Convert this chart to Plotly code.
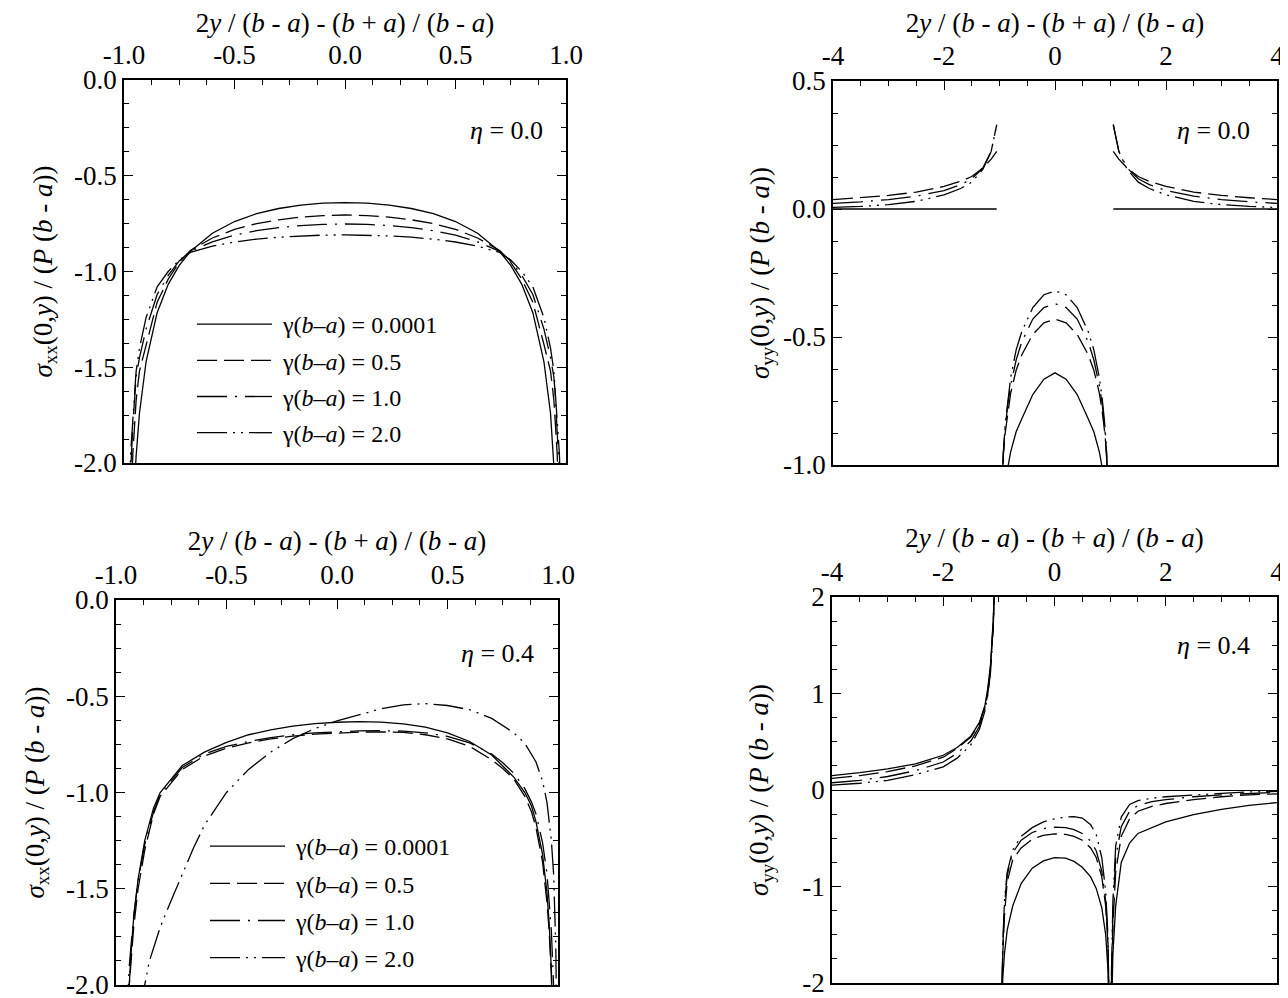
import plotly.graph_objects as go

FONT = "Liberation Serif, Tinos, Times New Roman, DejaVu Serif, serif"

SERIES_NAMES = ["\u00a0γ(<i>b</i>–<i>a</i>) = 0.0001", "\u00a0γ(<i>b</i>–<i>a</i>) = 0.5",
                "\u00a0γ(<i>b</i>–<i>a</i>) = 1.0", "\u00a0γ(<i>b</i>–<i>a</i>) = 2.0"]
DASHES = ["solid", "20px,7px", "30px,8px,2px,8px", "30px,6px,2px,6px,2px,6px"]

# ---------- Top-left: sigma_xx, eta = 0.0 ----------
TL_X = [-0.99, -0.98, -0.97, -0.96, -0.95, -0.945, -0.93, -0.9, -0.85, -0.8, -0.75, -0.7,
        -0.6, -0.5, -0.4, -0.3, -0.2, -0.1, 0.0, 0.1, 0.2, 0.3, 0.4, 0.5, 0.6, 0.7, 0.75,
        0.8, 0.85, 0.9, 0.93, 0.945, 0.95, 0.96, 0.97, 0.98, 0.99]
TL_G0001 = [-4.5, -3.2, -2.63, -2.29, -2.05, -1.96, -1.74, -1.47, -1.215, -1.067, -0.968, -0.896,
            -0.80, -0.739, -0.698, -0.671, -0.653, -0.643, -0.64, -0.643, -0.653, -0.671, -0.698,
            -0.739, -0.80, -0.896, -0.968, -1.067, -1.215, -1.47, -1.74, -1.96, -2.05, -2.29,
            -2.63, -3.2, -4.5]
TL_G05 = [-4.0, -3.0, -2.3, -1.95, -1.75, -1.67, -1.52, -1.38, -1.16, -1.04, -0.952, -0.89,
          -0.825, -0.78, -0.75, -0.73, -0.716, -0.708, -0.705, -0.708, -0.716, -0.73, -0.75,
          -0.78, -0.825, -0.89, -0.952, -1.04, -1.16, -1.38, -1.52, -1.67, -1.75, -1.95,
          -2.3, -3.0, -4.0]
TL_G10 = [-3.5, -2.6, -2.05, -1.80, -1.62, -1.55, -1.45, -1.30, -1.12, -1.02, -0.945, -0.895,
          -0.845, -0.81, -0.787, -0.771, -0.76, -0.754, -0.752, -0.754, -0.76, -0.771, -0.787,
          -0.81, -0.845, -0.895, -0.945, -1.02, -1.12, -1.30, -1.45, -1.55, -1.62, -1.80,
          -2.05, -2.6, -3.5]
TL_G20 = [-3.0, -2.3, -1.95, -1.75, -1.6, -1.52, -1.40, -1.24, -1.08, -1.0, -0.94, -0.9,
          -0.868, -0.846, -0.831, -0.821, -0.814, -0.810, -0.809, -0.810, -0.814, -0.821, -0.831,
          -0.846, -0.868, -0.9, -0.94, -1.0, -1.08, -1.24, -1.40, -1.52, -1.6, -1.75,
          -1.95, -2.3, -3.0]

# ---------- Top-right: sigma_yy, eta = 0.0 ----------
TR_XL = [-4, -3.5, -3, -2.5, -2, -1.7, -1.5, -1.3, -1.15, -1.05]
TR_XC = [-0.97, -0.95, -0.93, -0.9, -0.85, -0.8, -0.7, -0.6, -0.4, -0.2, 0.0,
         0.2, 0.4, 0.6, 0.7, 0.8, 0.85, 0.9, 0.93, 0.95, 0.97]
TR_XR = [1.05, 1.15, 1.3, 1.5, 1.7, 2, 2.5, 3, 3.5, 4]
TR_L = [
    [0, 0, 0, 0, 0, 0, 0, 0, 0, 0],
    [0.037, 0.044, 0.053, 0.066, 0.088, 0.108, 0.127, 0.16, 0.195, 0.225],
    [0.022, 0.028, 0.037, 0.05, 0.072, 0.095, 0.118, 0.16, 0.225, 0.33],
    [0.006, 0.01, 0.017, 0.03, 0.055, 0.08, 0.105, 0.155, 0.225, 0.33],
]
TR_C = [
    [-1.5, -1.3, -1.2, -1.1, -1.01, -0.95, -0.87, -0.82, -0.725, -0.665, -0.64,
     -0.665, -0.725, -0.82, -0.87, -0.95, -1.01, -1.1, -1.2, -1.3, -1.5],
    [-1.2, -1.05, -0.96, -0.88, -0.79, -0.72, -0.63, -0.57, -0.49, -0.445, -0.43,
     -0.445, -0.49, -0.57, -0.63, -0.72, -0.79, -0.88, -0.96, -1.05, -1.2],
    [-1.2, -1.05, -0.95, -0.86, -0.76, -0.69, -0.59, -0.52, -0.43, -0.385, -0.37,
     -0.385, -0.43, -0.52, -0.59, -0.69, -0.76, -0.86, -0.95, -1.05, -1.2],
    [-1.2, -1.05, -0.95, -0.85, -0.74, -0.66, -0.55, -0.48, -0.385, -0.335, -0.32,
     -0.335, -0.385, -0.48, -0.55, -0.66, -0.74, -0.85, -0.95, -1.05, -1.2],
]
TR_R = [
    [0, 0, 0, 0, 0, 0, 0, 0, 0, 0],
    [0.225, 0.195, 0.16, 0.127, 0.108, 0.088, 0.066, 0.053, 0.044, 0.037],
    [0.33, 0.225, 0.16, 0.118, 0.095, 0.072, 0.05, 0.037, 0.028, 0.022],
    [0.33, 0.225, 0.155, 0.105, 0.08, 0.055, 0.03, 0.017, 0.01, 0.006],
]

# ---------- Bottom-left: sigma_xx, eta = 0.4 ----------
BL_X = [-0.96, -0.95, -0.94, -0.93, -0.92, -0.9, -0.87, -0.83, -0.8, -0.7, -0.6, -0.5, -0.4,
        -0.3, -0.2, -0.1, 0.0, 0.1, 0.2, 0.3, 0.4, 0.5, 0.6, 0.7, 0.75, 0.8, 0.85, 0.88, 0.9,
        0.93, 0.95, 0.96, 0.97, 0.98, 0.99]
BL_G0001 = [-2.6, -2.25, -2.0, -1.8, -1.65, -1.45, -1.25, -1.08, -1.0, -0.86, -0.79, -0.74, -0.70,
            -0.675, -0.655, -0.642, -0.635, -0.632, -0.634, -0.643, -0.66, -0.69, -0.735, -0.805,
            -0.86, -0.92, -1.0, -1.07, -1.15, -1.32, -1.52, -1.68, -1.92, -2.3, -3.0]
BL_G05 = [-2.5, -2.2, -2.0, -1.85, -1.7, -1.5, -1.3, -1.11, -1.02, -0.88, -0.81, -0.77, -0.742,
          -0.722, -0.707, -0.697, -0.69, -0.686, -0.685, -0.688, -0.70, -0.722, -0.76, -0.83,
          -0.875, -0.93, -1.02, -1.1, -1.18, -1.36, -1.57, -1.72, -1.95, -2.3, -3.0]
BL_G10 = [-2.4, -2.1, -1.9, -1.77, -1.64, -1.46, -1.27, -1.1, -1.01, -0.87, -0.80, -0.76, -0.735,
          -0.715, -0.70, -0.69, -0.684, -0.68, -0.679, -0.681, -0.69, -0.708, -0.742, -0.80,
          -0.845, -0.90, -0.98, -1.05, -1.11, -1.26, -1.42, -1.55, -1.72, -2.0, -2.6]
BL_X20 = [-0.9, -0.87, -0.85, -0.8, -0.75, -0.7, -0.65, -0.6, -0.5, -0.4, -0.3, -0.2, -0.1, 0.0,
          0.1, 0.2, 0.3, 0.4, 0.5, 0.6, 0.7, 0.8, 0.85, 0.9, 0.93, 0.95, 0.97, 0.98, 0.99, 0.995]
BL_G20 = [-2.4, -2.0, -1.88, -1.7, -1.56, -1.42, -1.29, -1.17, -1.0, -0.88, -0.79, -0.72, -0.668,
          -0.628, -0.595, -0.565, -0.545, -0.538, -0.548, -0.57, -0.615, -0.69, -0.745, -0.84,
          -0.94, -1.05, -1.25, -1.42, -1.8, -2.3]

# ---------- Bottom-right: sigma_yy, eta = 0.4 ----------
BR_XL = [-4, -3.5, -3, -2.5, -2, -1.75, -1.5, -1.35, -1.25, -1.2, -1.15, -1.12, -1.1, -1.08]
BR_XC = [-0.96, -0.95, -0.93, -0.9, -0.85, -0.75, -0.6, -0.4, -0.2, 0.0, 0.2, 0.35, 0.5,
         0.65, 0.75, 0.85, 0.92, 0.96, 0.98]
BR_XR = [1.01, 1.02, 1.05, 1.1, 1.2, 1.35, 1.5, 1.75, 2, 2.5, 3, 3.5, 4]
BR_L = [
    [0.15, 0.18, 0.22, 0.27, 0.36, 0.44, 0.56, 0.70, 0.88, 1.05, 1.3, 1.55, 1.78, 2.1],
    [0.12, 0.15, 0.19, 0.25, 0.34, 0.43, 0.55, 0.69, 0.86, 1.02, 1.28, 1.52, 1.75, 2.1],
    [0.075, 0.10, 0.14, 0.20, 0.29, 0.38, 0.51, 0.66, 0.84, 1.0, 1.25, 1.5, 1.72, 2.1],
    [0.05, 0.07, 0.10, 0.16, 0.24, 0.33, 0.47, 0.63, 0.82, 0.98, 1.22, 1.48, 1.70, 2.1],
]
BR_C = [
    [-2.6, -2.25, -1.95, -1.7, -1.45, -1.2, -0.97, -0.81, -0.735, -0.70, -0.705, -0.74, -0.80,
     -0.90, -1.02, -1.22, -1.5, -1.85, -2.3],
    [-2.6, -2.1, -1.7, -1.3, -0.95, -0.72, -0.6, -0.51, -0.47, -0.455, -0.46, -0.48, -0.52,
     -0.6, -0.7, -0.9, -1.2, -1.6, -2.2],
    [-2.6, -2.1, -1.65, -1.2, -0.88, -0.65, -0.52, -0.44, -0.40, -0.385, -0.39, -0.41, -0.45,
     -0.53, -0.63, -0.84, -1.15, -1.55, -2.2],
    [-2.6, -2.1, -1.6, -1.15, -0.85, -0.62, -0.48, -0.39, -0.33, -0.30, -0.28, -0.275, -0.29,
     -0.36, -0.46, -0.7, -1.05, -1.5, -2.2],
]
BR_R = [
    [-3.0, -2.4, -1.7, -1.2, -0.75, -0.55, -0.45, -0.39, -0.33, -0.255, -0.2, -0.16, -0.13],
    [-3.0, -2.2, -1.4, -0.85, -0.48, -0.3, -0.22, -0.17, -0.14, -0.1, -0.07, -0.05, -0.04],
    [-3.0, -2.1, -1.25, -0.7, -0.38, -0.22, -0.16, -0.12, -0.1, -0.07, -0.05, -0.035, -0.025],
    [-3.0, -2.0, -1.15, -0.58, -0.28, -0.15, -0.11, -0.085, -0.07, -0.05, -0.035, -0.02, -0.015],
]

# ---------- ticks ----------
X1_VALS = [-1.0, -0.5, 0.0, 0.5, 1.0]
X1_TEXT = ["-1.0", "-0.5", "0.0", "0.5", "1.0"]
X4_VALS = [-4, -2, 0, 2, 4]
X4_TEXT = ["-4", "-2", "0", "2", "4"]
YXX_VALS = [0.0, -0.5, -1.0, -1.5, -2.0]
YXX_TEXT = ["0.0", "-0.5", "-1.0", "-1.5", "-2.0"]
YTR_VALS = [0.5, 0.0, -0.5, -1.0]
YTR_TEXT = ["0.5", "0.0", "-0.5", "-1.0"]
YBR_VALS = [2, 1, 0, -1, -2]
YBR_TEXT = ["2", "1", "0", "-1", "-2"]

XTITLE = "2<i>y</i> / (<i>b</i> - <i>a</i>) - (<i>b</i> + <i>a</i>) / (<i>b</i> - <i>a</i>)"
YXX_TITLE = "<i>σ</i><sub>xx</sub>(0,<i>y</i>) / (<i>P</i> (<i>b</i> - <i>a</i>))"
YYY_TITLE = "<i>σ</i><sub>yy</sub>(0,<i>y</i>) / (<i>P</i> (<i>b</i> - <i>a</i>))"

W, H = 1288, 998
OFF = 8  # page body margin: figure origin sits 8px in from the window corner
fig = go.Figure()

LW = 1.3


def add(x, y, i, xa, ya, legend=None):
    fig.add_trace(go.Scatter(
        x=x, y=y, mode="lines", name=SERIES_NAMES[i], xaxis=xa, yaxis=ya,
        line=dict(color="black", width=LW, dash=DASHES[i]),
        showlegend=legend is not None, legend=legend or "legend",
        legendgroup=f"{legend}{i}",
        connectgaps=False, hoverinfo="skip"))


# TL
for i, ys in enumerate([TL_G0001, TL_G05, TL_G10, TL_G20]):
    add(TL_X, ys, i, "x", "y", legend="legend")
# TR
for i in range(4):
    xs = TR_XL + [None] + TR_XC + [None] + TR_XR
    ys = TR_L[i] + [None] + TR_C[i] + [None] + TR_R[i]
    add(xs, ys, i, "x2", "y2")
# BL
add(BL_X, BL_G0001, 0, "x3", "y3", legend="legend2")
add(BL_X, BL_G05, 1, "x3", "y3", legend="legend2")
add(BL_X, BL_G10, 2, "x3", "y3", legend="legend2")
add(BL_X20, BL_G20, 3, "x3", "y3", legend="legend2")
# BR
for i in range(4):
    xs = BR_XL + [None] + BR_XC + [None] + BR_XR
    ys = BR_L[i] + [None] + BR_C[i] + [None] + BR_R[i]
    add(xs, ys, i, "x4", "y4")


def fx(px):
    return (px - OFF) / W


def fy(py):
    return 1 - (py - OFF) / H


def px_x(a, b):
    return [fx(a), fx(b)]


def px_y(top, bottom):
    return [fy(bottom), fy(top)]


TICKF = dict(family=FONT, size=27, color="black")
TITLEF = dict(family=FONT, size=27, color="black")


def xaxis(domain, anchor, rng, vals, text, mdt):
    return dict(domain=domain, anchor=anchor, side="top", range=rng, automargin=False,
                tickmode="array", tickvals=vals, ticktext=text,
                ticks="inside", ticklen=9, tickwidth=1.3, tickcolor="black",
                minor=dict(ticks="inside", ticklen=5, tickwidth=1.3, tickcolor="black",
                           tickmode="linear", tick0=rng[0], dtick=mdt),
                showline=True, linecolor="black", linewidth=1.5, mirror=True,
                showgrid=False, zeroline=False, tickfont=TICKF, ticklabelstandoff=3,
                title=dict(text=XTITLE, font=TITLEF, standoff=2))


def yaxis(domain, anchor, rng, vals, text, mdt, title, standoff, zeroline=False):
    return dict(domain=domain, anchor=anchor, range=rng, automargin=False,
                tickmode="array", tickvals=vals, ticktext=text,
                ticks="inside", ticklen=9, tickwidth=1.3, tickcolor="black",
                minor=dict(ticks="inside", ticklen=5, tickwidth=1.3, tickcolor="black",
                           tickmode="linear", tick0=rng[0], dtick=mdt),
                showline=True, linecolor="black", linewidth=1.5, mirror="ticks",
                showgrid=False, zeroline=zeroline, zerolinecolor="black", zerolinewidth=1.3,
                tickfont=TICKF, ticklabelstandoff=0,
                title=dict(text=title, font=TITLEF, standoff=standoff))


LEGF = dict(family=FONT, size=24, color="black")

fig.update_layout(
    width=W, height=H, margin=dict(l=0, r=0, t=0, b=0, autoexpand=False),
    paper_bgcolor="white", plot_bgcolor="white",
    font=dict(family=FONT, color="black"),
    xaxis=xaxis(px_x(124, 566), "y", [-1, 1], X1_VALS, X1_TEXT, 0.125),
    yaxis=yaxis(px_y(80, 463), "x", [-2, 0], YXX_VALS, YXX_TEXT, 0.125, YXX_TITLE, 14),
    xaxis2=xaxis(px_x(833, 1277), "y2", [-4, 4], X4_VALS, X4_TEXT, 0.5),
    yaxis2=yaxis(px_y(81, 465), "x2", [-1, 0.5], YTR_VALS, YTR_TEXT, 0.125, YYY_TITLE, 6),
    xaxis3=xaxis(px_x(116, 558), "y3", [-1, 1], X1_VALS, X1_TEXT, 0.125),
    yaxis3=yaxis(px_y(600, 985), "x3", [-2, 0], YXX_VALS, YXX_TEXT, 0.125, YXX_TITLE, 14),
    xaxis4=xaxis(px_x(832, 1277), "y4", [-4, 4], X4_VALS, X4_TEXT, 0.5),
    yaxis4=yaxis(px_y(597, 983), "x4", [-2, 2], YBR_VALS, YBR_TEXT, 0.25, YYY_TITLE, 26,
                 zeroline=True),
    legend=dict(x=fx(192), y=fy(302), xanchor="left", yanchor="top",
                bgcolor="rgba(0,0,0,0)", font=LEGF, itemwidth=75, tracegroupgap=2),
    legend2=dict(x=fx(205), y=fy(824), xanchor="left", yanchor="top",
                 bgcolor="rgba(0,0,0,0)", font=LEGF, itemwidth=75, tracegroupgap=3),
    showlegend=True,
)

ETA = [("<i>η</i> = 0.0", 506, 130), ("<i>η</i> = 0.0", 1213, 130),
       ("<i>η</i> = 0.4", 497, 653), ("<i>η</i> = 0.4", 1213, 645)]
for txt, ax, ay in ETA:
    fig.add_annotation(text=txt, x=fx(ax), y=fy(ay), xref="paper", yref="paper",
                       xanchor="center", yanchor="middle",
                       showarrow=False, font=dict(family=FONT, size=26, color="black"))

fig.write_html("out.html")
